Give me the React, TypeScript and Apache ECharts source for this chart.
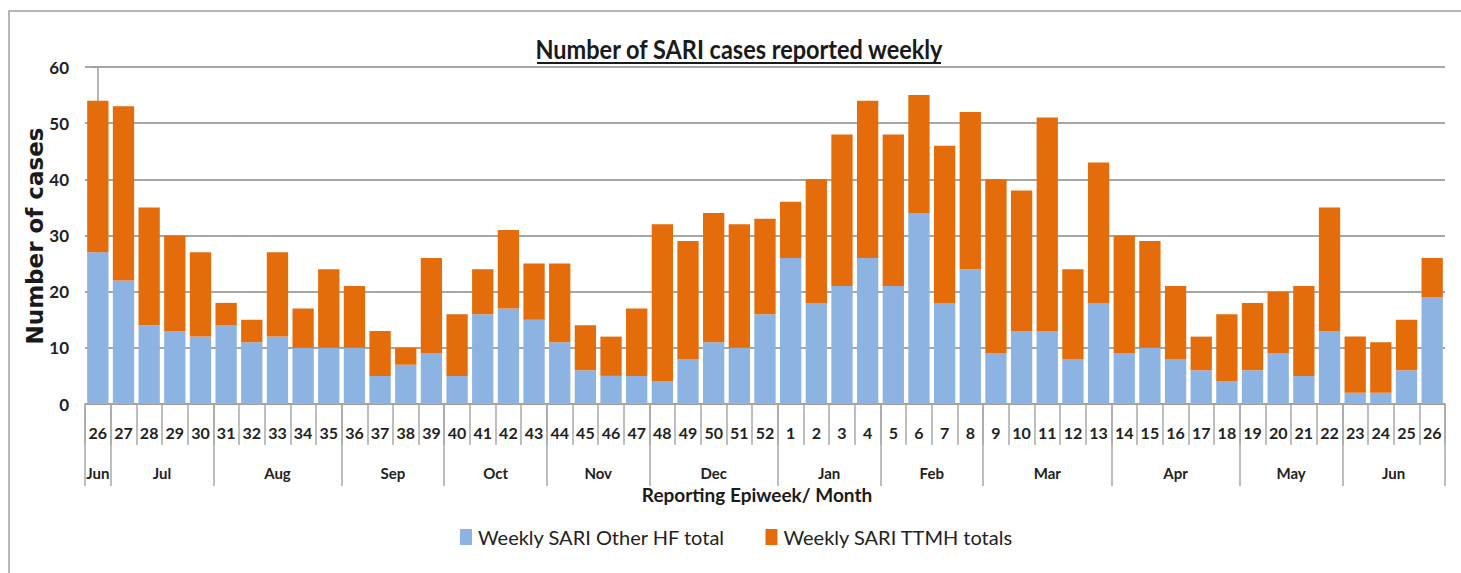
import React, { useEffect, useRef } from "react";
import * as echarts from "echarts";

const weekLabels = [
  "26", "27", "28", "29", "30", "31", "32", "33", "34", "35", "36", "37", "38", "39",
  "40", "41", "42", "43", "44", "45", "46", "47", "48", "49", "50", "51", "52",
  "1", "2", "3", "4", "5", "6", "7", "8", "9", "10", "11", "12", "13", "14", "15",
  "16", "17", "18", "19", "20", "21", "22", "23", "24", "25", "26",
];

const otherHF = [
  27, 22, 14, 13, 12, 14, 11, 12, 10, 10, 10, 5, 7, 9, 5, 16, 17, 15, 11, 6, 5, 5, 4, 8, 11, 10, 16,
  26, 18, 21, 26, 21, 34, 18, 24, 9, 13, 13, 8, 18, 9, 10, 8, 6, 4, 6, 9, 5, 13, 2, 2, 6, 19,
];

const ttmh = [
  27, 31, 21, 17, 15, 4, 4, 15, 7, 14, 11, 8, 3, 17, 11, 8, 14, 10, 14, 8, 7, 12, 28, 21, 23, 22, 17,
  10, 22, 27, 28, 27, 21, 28, 28, 31, 25, 38, 16, 25, 21, 19, 13, 6, 12, 12, 11, 16, 22, 10, 9, 9, 7,
];

const monthNames = ["Jun", "Jul", "Aug", "Sep", "Oct", "Nov", "Dec", "Jan", "Feb", "Mar", "Apr", "May", "Jun"];
const monthWeekCounts = [1, 4, 5, 4, 4, 4, 5, 4, 4, 5, 5, 4, 4];

const yTicks = [0, 10, 20, 30, 40, 50, 60];

const seriesNames = ["Weekly SARI Other HF total", "Weekly SARI TTMH totals"];

const FONT = "Lato, 'Noto Sans', sans-serif";

export default function App() {
  const ref = useRef<HTMLDivElement>(null);

  useEffect(() => {
    if (!ref.current) return;
    const chart = echarts.init(ref.current, null, { renderer: "svg" });

    const boundaries: number[] = [-0.5];
    const centers: number[] = [];
    let s = 0;
    monthWeekCounts.forEach((n) => {
      centers.push(s + (n - 1) / 2);
      s += n;
      boundaries.push(s - 0.5);
    });

    chart.setOption({
      animation: false,
      backgroundColor: "#ffffff",
      legend: {
        top: 522,
        left: 455,
        itemWidth: 12,
        itemHeight: 16,
        itemGap: 40,
        icon: "rect",
        data: seriesNames,
        textStyle: {
          fontFamily: FONT,
          fontSize: 20,
          color: "#222",
          padding: [0, 0, 0, 1],
        },
      },
      grid: {
        left: 85,
        right: 16,
        top: 67,
        bottom: 169,
        containLabel: false,
      },
      xAxis: [
        {
          type: "category",
          data: weekLabels,
          position: "bottom",
          axisLine: { show: true, lineStyle: { color: "#9e9e9e", width: 1.5 } },
          axisTick: {
            show: true,
            interval: 0,
            length: 41,
            alignWithLabel: false,
            lineStyle: { color: "#a8a8a8", width: 1.5 },
          },
          axisLabel: {
            interval: 0,
            margin: 20,
            fontFamily: FONT,
            fontWeight: "bold",
            fontSize: 16,
            color: "#222",
          },
          splitLine: { show: false },
        },
        {
          type: "value",
          min: -0.5,
          max: 52.5,
          position: "bottom",
          axisLine: { show: false },
          splitLine: { show: false },
          axisTick: {
            show: true,
            customValues: boundaries,
            length: 82,
            lineStyle: { color: "#a8a8a8", width: 1.5 },
          },
          axisLabel: {
            show: true,
            customValues: centers,
            margin: 61,
            fontFamily: FONT,
            fontWeight: "bold",
            fontSize: 15,
            color: "#222",
            formatter: (v: number) => {
              const i = centers.findIndex((c) => Math.abs(c - v) < 1e-6);
              return i >= 0 ? monthNames[i] : "";
            },
          },
        },
      ],
      yAxis: {
        type: "value",
        min: yTicks[0],
        max: yTicks[yTicks.length - 1],
        interval: 10,
        axisLine: { show: true, lineStyle: { color: "#9e9e9e", width: 1.5 } },
        axisTick: { show: true, length: 5, lineStyle: { color: "#9e9e9e", width: 1.5 } },
        axisLabel: {
          margin: 16,
          fontFamily: FONT,
          fontWeight: "bold",
          fontSize: 17,
          color: "#222",
        },
        splitLine: { show: true, lineStyle: { color: "#a6a6a6", width: 1.8 } },
      },
      series: [
        {
          name: seriesNames[0],
          type: "bar",
          stack: "total",
          xAxisIndex: 0,
          data: otherHF,
          barCategoryGap: "17%",
          itemStyle: { color: "#8db3e2" },
        },
        {
          name: seriesNames[1],
          type: "bar",
          stack: "total",
          xAxisIndex: 0,
          data: ttmh,
          barCategoryGap: "17%",
          itemStyle: { color: "#e46c0a" },
        },
      ],
      graphic: [
        {
          type: "rect",
          shape: { x: 9, y: 11, width: 1500, height: 620 },
          style: { fill: "none", stroke: "#a0a0a0", lineWidth: 1.5 },
          silent: true,
        },
        {
          type: "text",
          x: 739,
          y: 48,
          scaleX: 0.87,
          style: {
            text: "Number of SARI cases reported weekly",
            fontFamily: FONT,
            fontWeight: "bold",
            fontSize: 27,
            fill: "#1a1a1a",
            align: "center",
            verticalAlign: "middle",
          },
          silent: true,
        },
        {
          type: "line",
          shape: { x1: 537, y1: 63, x2: 941, y2: 63 },
          style: { stroke: "#1a1a1a", lineWidth: 2 },
          silent: true,
        },
        {
          type: "text",
          x: 35,
          y: 236,
          rotation: Math.PI / 2,
          style: {
            text: "Number of cases",
            fontFamily: "'DejaVu Sans', sans-serif",
            fontWeight: "bold",
            fontSize: 23,
            fill: "#1a1a1a",
            align: "center",
            verticalAlign: "middle",
          },
          silent: true,
        },
        {
          type: "text",
          x: 757,
          y: 494,
          style: {
            text: "Reporting Epiweek/ Month",
            fontFamily: FONT,
            fontWeight: "bold",
            fontSize: 19,
            fill: "#1a1a1a",
            align: "center",
            verticalAlign: "middle",
          },
          silent: true,
        },
      ],
    });

    return () => chart.dispose();
  }, []);

  return (
    <div
      ref={ref}
      style={{ position: "fixed", left: 0, top: 0, width: 1461, height: 573 }}
    />
  );
}
